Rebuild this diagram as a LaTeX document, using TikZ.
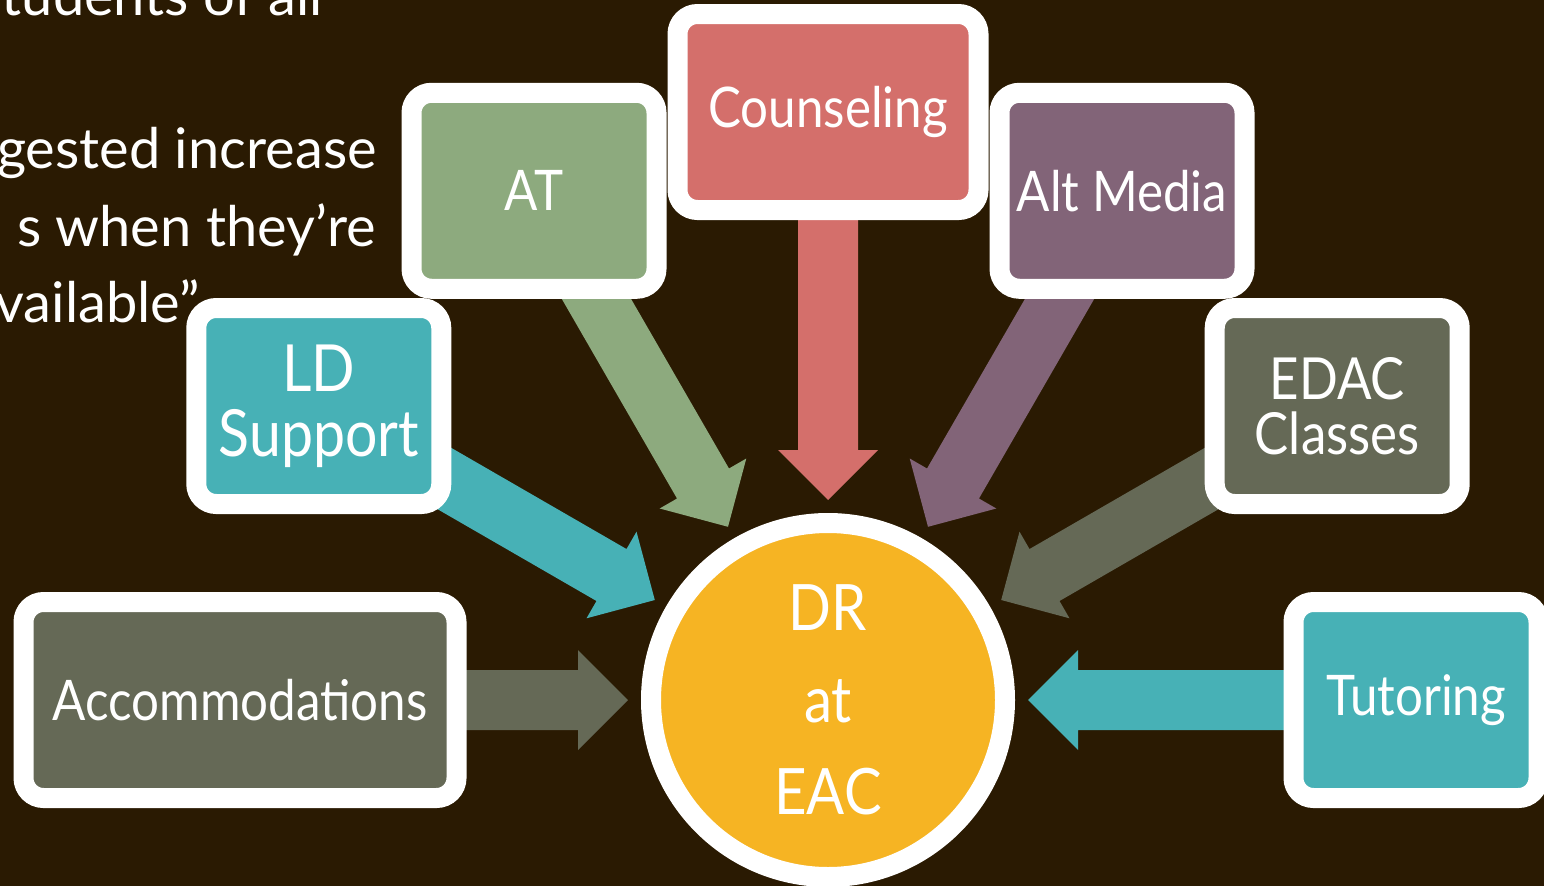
\documentclass[tikz,border=0pt]{standalone}
\usepackage{fontspec}
\setmainfont{Lato}[FakeStretch=0.88]
\newfontfamily\bodyfont{Lato}
\usetikzlibrary{calc}
\pgfdeclarelayer{back}
\pgfsetlayers{back,main}
\definecolor{bgc}{HTML}{2A1A02}
\definecolor{cgreen}{HTML}{8DAA7E}
\definecolor{cred}{HTML}{D46F6B}
\definecolor{cpurple}{HTML}{826478}
\definecolor{cteal}{HTML}{47B1B6}
\definecolor{colive}{HTML}{656956}
\definecolor{cyellow}{HTML}{F6B423}
\newcommand{\blockarrow}[3]{%
  \coordinate (bt) at ($(#2.center)!200pt!(#1.center)$);
  \coordinate (bm) at ($(#2.center)!250pt!(#1.center)$);
  \fill[#3] ($(#1.center)!30pt!90:(bt)$) -- ($(bm)!30pt!90:(bt)$) -- ($(bm)!50pt!90:(bt)$) -- (bt)
    -- ($(bm)!50pt!-90:(bt)$) -- ($(bm)!30pt!-90:(bt)$) -- ($(#1.center)!30pt!-90:(bt)$) -- cycle;
}
\begin{document}
\begin{tikzpicture}[x=1pt,y=1pt,
  box/.style={draw=white, line width=20pt, rounded corners=20pt, minimum width=245pt, minimum height=196pt,
    inner sep=0pt, text=white, align=center, font=\fontsize{56}{60}\selectfont},
  hub/.style={circle, draw=white, line width=20pt, fill=cyellow, minimum size=354pt, inner sep=0pt,
    text=white, align=center, font=\fontsize{64}{92}\selectfont},
  bodytext/.style={anchor=base east, text=white, inner sep=0pt, font=\bodyfont\fontsize{56}{60}\selectfont}]
\useasboundingbox (0,0) rectangle (1544,-886);
\begin{pgfonlayer}{back}
\fill[bgc] (0,0) rectangle (1544,-886);
\end{pgfonlayer}
% partially visible slide text
\node[bodytext] (t1) at (323,-15) {tudents of all};
\node[bodytext] (t2) at (377,-168) {gested increase};
\node[bodytext] (t3) at (376,-246) {s when they’re};
\node[bodytext] (t4) at (200,-322) {vailable”};
% hub and boxes
\node[hub] (dr) at (828,-700) {DR\\at\\EAC};
\node[box, fill=cred, minimum width=301pt] (couns) at ($(dr)+(90:588)$) {Counseling};
\node[box, fill=cgreen] (at) at ($(dr)+(120:588)$) {AT};
\node[box, fill=cpurple] (alt) at ($(dr)+(60:588)$) {Alt Media};
\node[box, fill=cteal, font=\fontsize{65}{65}\selectfont] (ld) at ($(dr)+(150:588)$) {LD\\Support};
\node[box, fill=colive, font=\fontsize{58}{55}\selectfont] (edac) at ($(dr)+(30:588)$) {EDAC\\Classes};
\node[box, fill=colive, minimum width=433pt] (acc) at ($(dr)+(180:588)$) {Accommodations};
\node[box, fill=cteal] (tut) at ($(dr)+(0:588)$) {Tutoring};
% block arrows
\begin{pgfonlayer}{back}
\blockarrow{acc}{dr}{colive}
\blockarrow{ld}{dr}{cteal}
\blockarrow{at}{dr}{cgreen}
\blockarrow{couns}{dr}{cred}
\blockarrow{alt}{dr}{cpurple}
\blockarrow{edac}{dr}{colive}
\blockarrow{tut}{dr}{cteal}
\end{pgfonlayer}
\end{tikzpicture}
\end{document}
